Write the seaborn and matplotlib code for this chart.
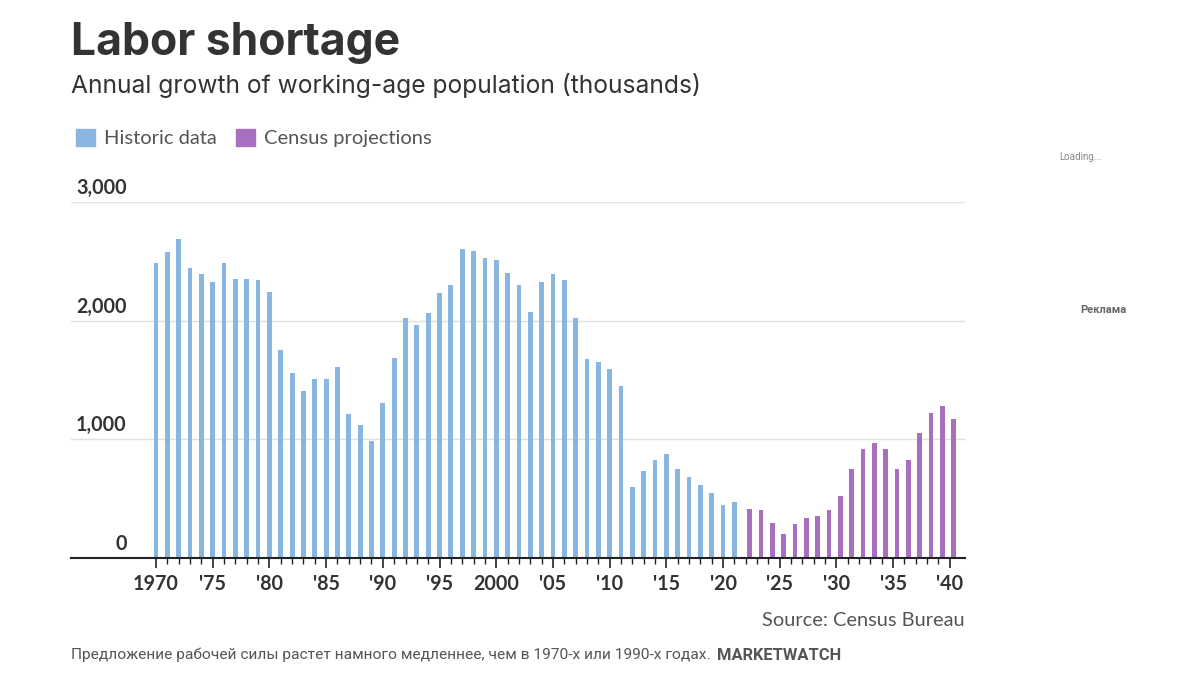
import pandas as pd
import matplotlib
matplotlib.use("Agg")
import matplotlib.pyplot as plt
import seaborn as sns
from matplotlib.patches import Patch
from matplotlib.transforms import ScaledTranslation

hist_years = list(range(1970, 2022))
hist_values = [2483, 2575, 2685, 2446, 2390, 2325, 2483, 2350, 2350, 2339,
               2243, 1751, 1554, 1408, 1504, 1504, 1605, 1211, 1115, 983,
               1301, 1686, 2018, 1965, 2060, 2229, 2297, 2603, 2589, 2525,
               2510, 2403, 2297, 2072, 2325, 2390, 2339, 2018, 1672, 1647,
               1593, 1447, 598, 733, 825, 876, 744, 679, 612, 547,
               440, 466]
proj_years = list(range(2022, 2041))
proj_values = [412, 401, 294, 201, 280, 333, 347, 401, 519, 744,
               918, 969, 918, 744, 825, 1051, 1222, 1276, 1169]

y_ticks = [0, 1000, 2000, 3000]
y_labels = ["0", "1,000", "2,000", "3,000"]
major_years = list(range(1970, 2041, 5))
major_labels = ["1970", "'75", "'80", "'85", "'90", "'95", "2000", "'05", "'10",
                "'15", "'20", "'25", "'30", "'35", "'40"]

BLUE = "#89b6e0"
PURPLE = "#a86fc0"
W, H = 1200, 678

sns.set_theme(style="white")
plt.rcParams["font.family"] = ["Lato", "DejaVu Sans"]

fig = plt.figure(figsize=(W / 100, H / 100), dpi=100)
ax = fig.add_axes([71 / W, 1 - 557.5 / H, (965 - 71) / W, 355.5 / H])

# projections sit a little right of their ticks in the original
df_hist = pd.DataFrame({"year": hist_years, "value": hist_values})
df_proj = pd.DataFrame({"year": proj_years, "value": proj_values})
df_proj["year"] = df_proj["year"] + 0.35
sns.barplot(data=df_hist, x="year", y="value", color=BLUE, saturation=1,
            native_scale=True, width=0.42, linewidth=0, ax=ax)
sns.barplot(data=df_proj, x="year", y="value", color=PURPLE, saturation=1,
            native_scale=True, width=0.42, linewidth=0, ax=ax)

ax.set_xlim(1962.5, 2041.34)
ax.set_ylim(0, 3000)
ax.set_xlabel("")
ax.set_ylabel("")

for side in ["top", "left", "right"]:
    ax.spines[side].set_visible(False)
ax.spines["bottom"].set_color("#222222")
ax.spines["bottom"].set_linewidth(1.5)
ax.spines["bottom"].set_zorder(5)

ax.set_axisbelow(True)
ax.yaxis.grid(True, color="#e0e0e0", linewidth=1.0)
ax.xaxis.grid(False)

ax.set_xticks(major_years)
ax.set_xticklabels(major_labels, fontsize=14.2, color="#333333", fontweight="bold")
ax.set_xticks(hist_years + proj_years, minor=True)
ax.tick_params(axis="x", which="major", length=7.5, width=1.2, color="#222222", pad=4.5, bottom=True)
ax.tick_params(axis="x", which="minor", length=4, width=1, color="#222222", bottom=True)

ax.set_yticks(y_ticks)
ax.set_yticklabels(y_labels, fontsize=14.2, color="#333333", fontweight="bold", ha="right")
ax.tick_params(axis="y", length=0, pad=-40)
for lab in ax.get_yticklabels():
    lab.set_transform(lab.get_transform() + ScaledTranslation(0, 16 / 100, fig.dpi_scale_trans))

handles = [Patch(color=BLUE, label="Historic data"), Patch(color=PURPLE, label="Census projections")]
fig.legend(handles=handles, loc="center left", bbox_to_anchor=(72 / W, 1 - 138 / H), frameon=False,
           ncol=2, fontsize=14.5, labelcolor="#555555", handlelength=0.95, handleheight=0.95,
           handletextpad=0.45, columnspacing=0.93, borderpad=0.2, borderaxespad=0)

fig.text(71 / W, 1 - 43 / H, "Labor shortage", fontsize=32, fontweight="bold", color="#333333", va="center",
         family=["Inter", "DejaVu Sans"])
fig.text(71 / W, 1 - 86 / H, "Annual growth of working-age population (thousands)", fontsize=17.7,
         color="#333333", va="center", family=["Inter", "DejaVu Sans"])
fig.text(965 / W, 1 - 620 / H, "Source: Census Bureau", fontsize=14.4, color="#555555", va="center", ha="right")

fig.text(71 / W, 1 - 655 / H, "Предложение рабочей силы растет намного медленнее, чем в 1970-х или 1990-х годах.",
         fontsize=11.15, color="#555555", va="center", family=["Roboto", "DejaVu Sans"])
fig.text(717 / W, 1 - 655 / H, "MARKETWATCH", fontsize=11.9, color="#555555", va="center", fontweight="bold",
         family=["Roboto", "DejaVu Sans"])
fig.text(1059 / W, 1 - 157 / H, "Loading...", fontsize=7, color="#888888", va="center",
         family=["Roboto", "DejaVu Sans"])
fig.text(1080 / W, 1 - 310 / H, "Реклама", fontsize=8, color="#666666", va="center", fontweight="bold",
         family=["Roboto", "DejaVu Sans"])

fig.savefig("out.png", dpi=100)
